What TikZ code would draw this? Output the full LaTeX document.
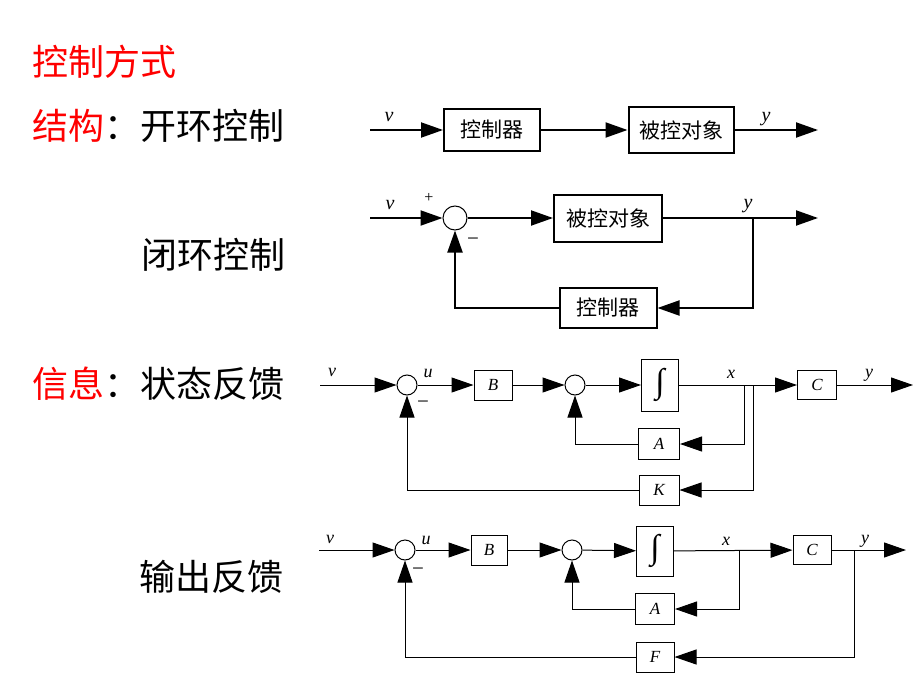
\documentclass[tikz,border=0pt]{standalone}
\usepackage{fontspec}
\setmainfont{Liberation Serif}
\newfontfamily\cjk{Noto Sans CJK SC}
\usetikzlibrary{arrows.meta,positioning}

\begin{document}
\begin{tikzpicture}[x=1pt,y=-1pt,
  bigbox/.style={draw, line width=2pt, inner sep=0pt, font=\cjk\fontsize{21}{21}\selectfont},
  smallbox/.style={draw, line width=1pt, inner sep=0pt, font=\fontsize{17}{17}\selectfont\itshape},
  sumnode/.style={circle, draw, line width=1pt, inner sep=0pt, minimum size=20pt},
  heading/.style={anchor=west, inner sep=0pt, font=\cjk\fontsize{36}{36}\selectfont},
  sig/.style={inner sep=0pt, font=\fontsize{18}{18}\selectfont\itshape},
  bigsig/.style={inner sep=0pt, font=\fontsize{20}{20}\selectfont\itshape},
  sign/.style={inner sep=0pt, font=\fontsize{16}{16}\selectfont},
  minussign/.style={inner sep=0pt, font=\fontsize{21}{21}\selectfont},
  integ/.style={font=\fontsize{34}{34}\selectfont},
  thickwire/.style={line width=2pt},
  thinwire/.style={line width=1pt},
  fwd/.style={-{Triangle[length=22pt,width=15pt]}}
]
\useasboundingbox (0,0) rectangle (920,690);

% Headings on the left
\node[heading, red] (title) at (32,62) {控制方式};
\node[heading] (structure) at (32,126) {{\color{red}结构}：开环控制};
\node[heading] (closedlbl) at (141,255) {闭环控制};
\node[heading] (info) at (32,384) {{\color{red}信息}：状态反馈};
\node[heading] (outlbl) at (139,577) {输出反馈};

% Row 1: open loop
\coordinate (ol-in) at (370,130);
\node[bigbox, minimum width=96pt, minimum height=42pt] (ol-ctrl) at (492,130) {控制器};
\node[bigbox, minimum width=105pt, minimum height=46pt] (ol-plant) at (681,130) {被控对象};
\coordinate (ol-out) at (818,130);
\draw[thickwire, fwd] (ol-in) -- (ol-ctrl);
\draw[thickwire, fwd] (ol-ctrl) -- (ol-plant);
\draw[thickwire, fwd] (ol-plant) -- (ol-out);
\node[bigsig] (ol-v) at (389,117) {v};
\node[bigsig] (ol-y) at (766,119) {y};

% Row 2: closed loop
\coordinate (cl-in) at (370,218);
\node[sumnode, minimum size=24pt] (cl-sum) at (455,218) {};
\node[bigbox, minimum width=108pt, minimum height=47pt] (cl-plant) at (608,218) {被控对象};
\coordinate (cl-out) at (818,218);
\coordinate (cl-br) at (753,218);
\node[bigbox, minimum width=97pt, minimum height=40pt] (cl-ctrl) at (608,308) {控制器};
\draw[thickwire, fwd] (cl-in) -- (cl-sum);
\draw[thickwire, fwd] (cl-sum) -- (cl-plant);
\draw[thickwire, fwd] (cl-plant) -- (cl-out);
\draw[thickwire, fwd] (cl-br) |- (cl-ctrl);
\draw[thickwire, fwd] (cl-ctrl) -| (cl-sum);
\node[bigsig] (cl-v) at (390,205) {v};
\node[sign] (cl-plus) at (429,198) {+};
\node[minussign] (cl-minus) at (473,242) {−};
\node[bigsig] (cl-y) at (748,206) {y};

% Row 3: state feedback
\coordinate (sf-in) at (320,385);
\node[sumnode] (sf-s1) at (407,385) {};
\node[smallbox, minimum width=38pt, minimum height=30pt] (sf-B) at (493,385) {B};
\node[sumnode] (sf-s2) at (575,385) {};
\node[smallbox, integ, minimum width=37pt, minimum height=52pt] (sf-int) at (660,385) {∫};
\node[smallbox, minimum width=39pt, minimum height=29pt] (sf-C) at (817,385) {C};
\coordinate (sf-out) at (913,385);
\coordinate (sf-br1) at (744,385);
\coordinate (sf-br2) at (753,385);
\node[smallbox, minimum width=41pt, minimum height=31pt] (sf-A) at (659,444) {A};
\node[smallbox, minimum width=40pt, minimum height=30pt] (sf-K) at (659,490) {K};
\draw[thinwire, fwd] (sf-in) -- (sf-s1);
\draw[thinwire, fwd] (sf-s1) -- (sf-B);
\draw[thinwire, fwd] (sf-B) -- (sf-s2);
\draw[thinwire, fwd] (sf-s2) -- (sf-int);
\draw[thinwire, fwd] (sf-int) -- (sf-C);
\draw[thinwire, fwd] (sf-C) -- (sf-out);
\draw[thinwire, fwd] (sf-br1) |- (sf-A);
\draw[thinwire, fwd] (sf-br2) |- (sf-K);
\draw[thinwire, fwd] (sf-A) -| (sf-s2);
\draw[thinwire, fwd] (sf-K) -| (sf-s1);
\node[sig] (sf-v) at (332,372) {v};
\node[sig] (sf-u) at (428,373) {u};
\node[minussign] (sf-minus) at (423,405) {−};
\node[sig] (sf-x) at (731,374) {x};
\node[sig] (sf-y) at (869,375) {y};

% Row 4: output feedback
\coordinate (of-in) at (319,550);
\node[sumnode] (of-s1) at (405,550) {};
\node[smallbox, minimum width=36pt, minimum height=30pt] (of-B) at (489,550) {B};
\node[sumnode] (of-s2) at (572,550) {};
\node[smallbox, integ, minimum width=37pt, minimum height=50pt] (of-int) at (655,551) {∫};
\node[smallbox, minimum width=38pt, minimum height=29pt] (of-C) at (812,550) {C};
\coordinate (of-out) at (906,550);
\coordinate (of-brx) at (739,550);
\coordinate (of-bry) at (854,550);
\node[smallbox, minimum width=39pt, minimum height=31pt] (of-A) at (655,609) {A};
\node[smallbox, minimum width=38pt, minimum height=30pt] (of-F) at (655,657) {F};
\draw[thinwire, fwd] (of-in) -- (of-s1);
\draw[thinwire, fwd] (of-s1) -- (of-B);
\draw[thinwire, fwd] (of-B) -- (of-s2);
\draw[thinwire, fwd] (of-s2) -- (of-int);
\draw[thinwire, fwd] (of-int) -- (of-C);
\draw[thinwire, fwd] (of-C) -- (of-out);
\draw[thinwire, fwd] (of-brx) |- (of-A);
\draw[thinwire, fwd] (of-bry) |- (of-F);
\draw[thinwire, fwd] (of-A) -| (of-s2);
\draw[thinwire, fwd] (of-F) -| (of-s1);
\node[sig] (of-v) at (330,539) {v};
\node[sig] (of-u) at (426,540) {u};
\node[minussign] (of-minus) at (418,572) {−};
\node[sig] (of-x) at (726,541) {x};
\node[sig] (of-y) at (865,541) {y};
\end{tikzpicture}
\end{document}
